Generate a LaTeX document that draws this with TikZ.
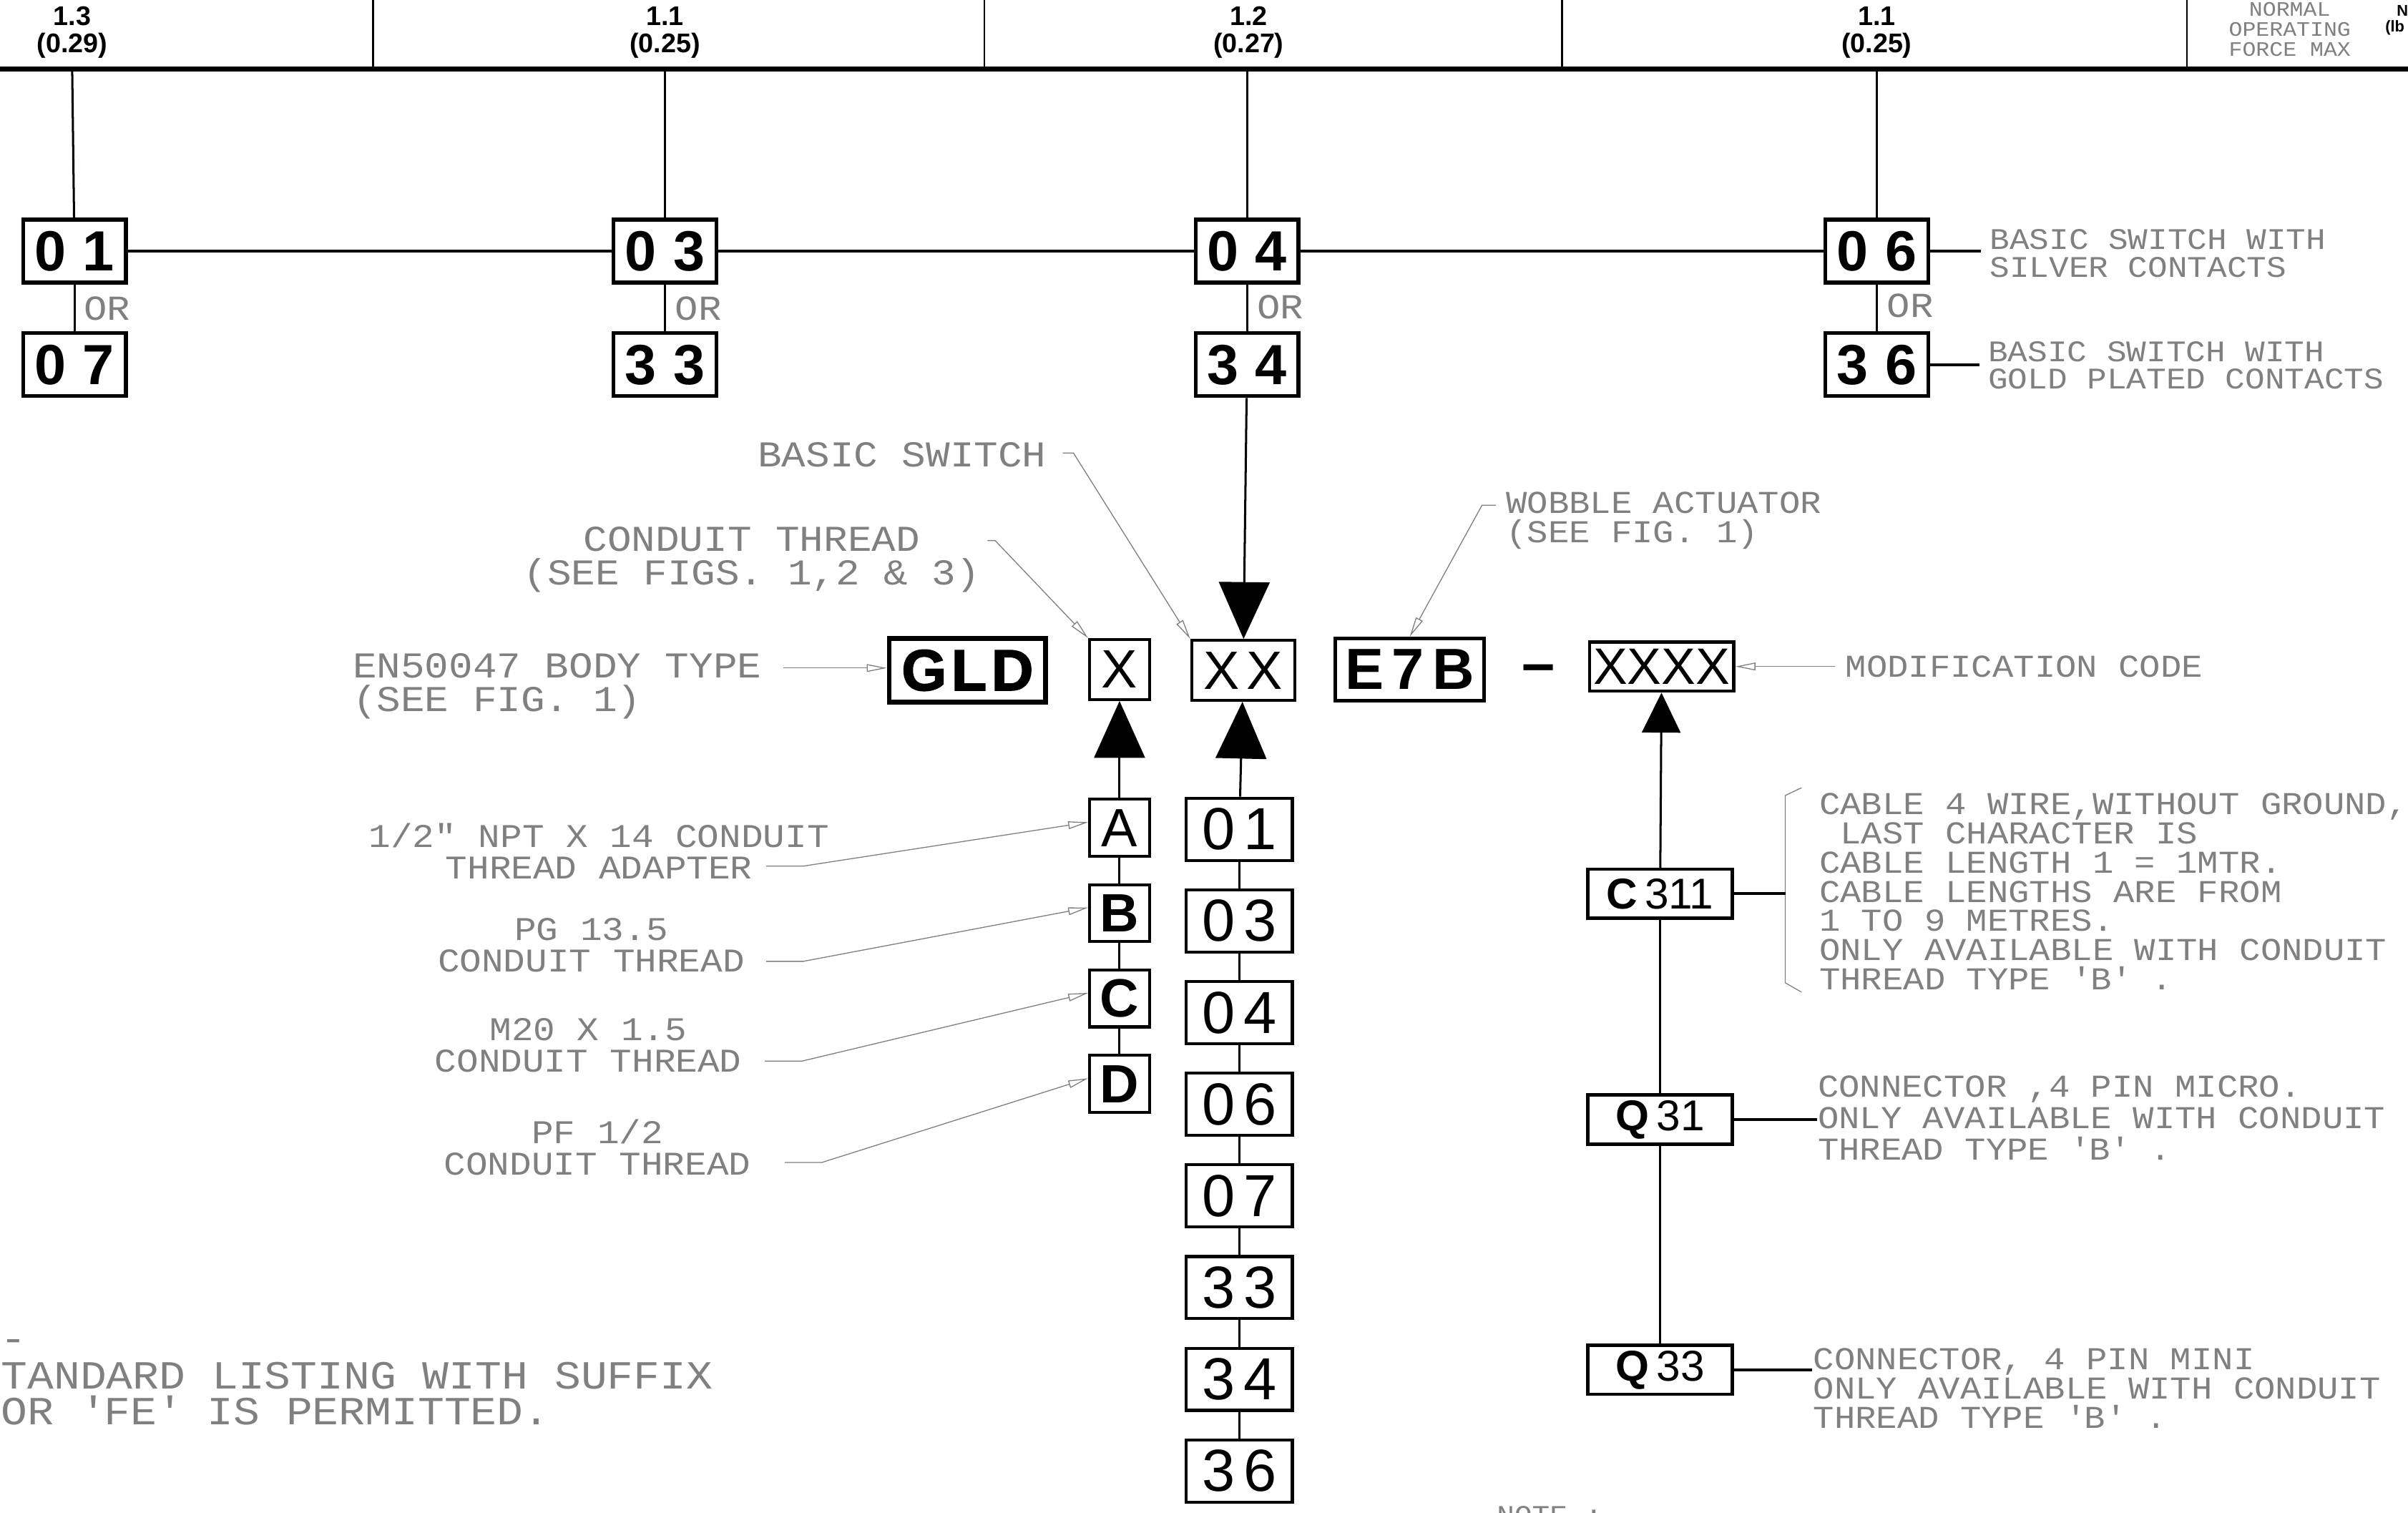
\documentclass[tikz,border=0pt]{standalone}
\usepackage{fontspec}
\setmainfont{Liberation Sans}
\newfontfamily\cadfont[FakeStretch=1.1]{Liberation Mono}
\newfontfamily\digitfont[LetterSpace=14]{Liberation Sans}
\newfontfamily\widefont[LetterSpace=30]{Liberation Sans}
\newfontfamily\heavyfont[FakeBold=2,LetterSpace=8]{Liberation Sans}
\usetikzlibrary{arrows.meta}

\definecolor{cadgray}{gray}{0.5}
\newcommand{\cad}[2]{\fontsize{#1}{#2}\cadfont}
\newcommand{\tick}{\textquotesingle}

\begin{document}
\begin{tikzpicture}[x=0.02cm,y=-0.02cm,line width=0.8pt,
                    >={Triangle[open,width=1mm,length=2.6mm]},node distance=1.48cm,
                    head/.style={font=\bfseries\fontsize{10}{10}\selectfont,align=center},
                    top box/.style={draw,line width=1.4pt,inner sep=0pt,minimum width=1.34cm,minimum height=0.82cm,
                                    font=\widefont\bfseries\fontsize{21}{21}\selectfont},
                    col box/.style={draw,line width=1.1pt,inner sep=0pt,minimum width=1.38cm,minimum height=0.81cm,
                                    font=\digitfont\fontsize{22}{22}\selectfont},
                    thr box/.style={draw,line width=1.1pt,inner sep=0pt,minimum width=0.78cm,minimum height=0.74cm,
                                    font=\fontsize{20}{20}\selectfont},
                    mod box/.style={draw,line width=1.2pt,inner sep=0pt,minimum width=1.88cm,minimum height=0.64cm,
                                    font=\fontsize{16}{16}\selectfont},
                    note/.style={text=cadgray,inner sep=0pt},
                    leader/.style={draw=cadgray,line width=0.35pt},
                    big arrow/.style={-{Triangle[width=6.6mm,length=7.4mm]}},
                    mod arrow/.style={-{Triangle[width=5mm,length=5.2mm]}}]

  \useasboundingbox (0,0) rectangle (1568,985);

  % table head
  \draw[line width=1.7pt] (0,45) -- (1568,45);
  \draw[line width=0.7pt] (243,0) -- (243,45) (641,0) -- (641,45)
                          (1017,0) -- (1017,45) (1424,0) -- (1424,45);
  \node[head] (f01) at (47,21) {1.3\\(0.29)};
  \node[head] (f03) at (433,21) {1.1\\(0.25)};
  \node[head] (f04) at (813,21) {1.2\\(0.27)};
  \node[head] (f06) at (1222,21) {1.1\\(0.25)};
  \node[note,font=\cad{7.6}{7.4},align=center] (force) at (1491,19) {NORMAL\\OPERATING\\FORCE MAX};
  \node[font=\bfseries\fontsize{5.8}{5.8}\selectfont,anchor=west,inner sep=0pt] (nn) at (1560,7) {N};
  \node[font=\bfseries\fontsize{5.8}{5.8}\selectfont,anchor=west,inner sep=0pt] (lb) at (1552.5,18) {(lb};
  \coordinate (h01) at (47,45);
  \coordinate (h03) at (433,45);
  \coordinate (h04) at (812,45);
  \coordinate (h06) at (1222,45);

  % basic switch choices
  \node[top box] (s01) at (48.5,163.5) {01};
  \node[top box] (s03) at (433,163.5) {03};
  \node[top box] (s04) at (812,163.5) {04};
  \node[top box] (s06) at (1222,163.5) {06};
  \node[top box] (s07) [below of=s01] {07};
  \node[top box] (s33) [below of=s03] {33};
  \node[top box] (s34) [below of=s04] {34};
  \node[top box] (s36) [below of=s06] {36};

  \node[note,font=\cad{13}{13},anchor=west] (or01) at (54,201) {OR};
  \node[note,font=\cad{13}{13},anchor=west] (or03) at (439,201) {OR};
  \node[note,font=\cad{13}{13},anchor=west] (or04) at (818,200) {OR};
  \node[note,font=\cad{13}{13},anchor=west] (or06) at (1228,199) {OR};

  \node[note,font=\cad{11.1}{10.2},align=left,anchor=west] (silver) at (1295,165)
       {BASIC SWITCH WITH\\SILVER CONTACTS};
  \node[note,font=\cad{11.1}{10.2},align=left,anchor=west] (gold) at (1294,238)
       {BASIC SWITCH WITH\\GOLD PLATED CONTACTS};

  \path (h01) edge (s01)
        (h03) edge (s03)
        (h04) edge (s04)
        (h06) edge (s06)
        (s01) edge (s07)
        (s03) edge (s33)
        (s04) edge (s34)
        (s06) edge (s36);
  \path[line width=1.1pt]
        (s01) edge (s03)
        (s03) edge (s04)
        (s04) edge (s06)
        (s06.east) edge [shorten >=1mm] (s06.east -| silver.west)
        (s36.east) edge [shorten >=1mm] (s36.east -| gold.west);

  % catalogue listing
  \node[draw,line width=1.8pt,inner sep=0pt,minimum width=2.04cm,minimum height=0.83cm,
        font=\heavyfont\bfseries\fontsize{21.5}{21.5}\selectfont] (gld) at (630,436.5) {GLD};
  \node[thr box,minimum height=0.78cm] (thr) at (729,436) {X};
  \node[draw,line width=1.1pt,inner sep=0pt,minimum width=1.34cm,minimum height=0.78cm,
        font=\digitfont\fontsize{20}{20}\selectfont] (xx) at (809.5,436.5) {XX};
  \node[draw,line width=1.4pt,inner sep=0pt,minimum width=1.94cm,minimum height=0.81cm,
        font=\digitfont\bfseries\fontsize{21.5}{21.5}\selectfont] (e7b) at (918,436) {E7B};
  \node[font=\bfseries\fontsize{22}{22}\selectfont] (dash) at (1002,439) {--};
  \node[mod box,font=\fontsize{19}{19}\selectfont] (xxxx) at (1082,434) {XXXX};

  \path (s34) edge [big arrow] (xx);

  % labels with leaders
  \node[note,font=\cad{13.5}{12.5},anchor=east] (lswitch) at (682,296) {BASIC SWITCH};
  \node[note,font=\cad{13.5}{12.5},align=center] (lthread) at (489.5,364.5)
       {CONDUIT THREAD\\(SEE FIGS. 1,2 \& 3)};
  \node[note,font=\cad{13.5}{12.5},align=left,anchor=west] (lbody) at (229,447)
       {EN50047 BODY TYPE\\(SEE FIG. 1)};
  \node[note,font=\cad{11.8}{11.1},align=left,anchor=west] (lwobble) at (980,339)
       {WOBBLE ACTUATOR\\(SEE FIG. 1)};
  \node[note,font=\cad{11.8}{11},anchor=west] (lmod) at (1201,434) {MODIFICATION CODE};
  \coordinate (sw0) at (692,295);
  \coordinate (ct0) at (643,352);
  \coordinate (en0) at (510,435);
  \coordinate (wa0) at (974,329);
  \coordinate (mc0) at (1195,434);

  \draw[leader,->] (sw0) -- ++(7,0) -- (xx.north west);
  \draw[leader,->] (ct0) -- ++(5,0) -- (thr.north west);
  \draw[leader,->] (en0) -- (en0 -| gld.west);
  \draw[leader,->] (wa0) -- ++(-9,0) -- (e7b.north);
  \draw[leader,->] (mc0) -- (xxxx.east);

  % conduit thread column
  \begin{scope}[node distance=1.112cm]
    \node[thr box] (ta) at (729,539) {A};
    \node[thr box,font=\bfseries\fontsize{20}{20}\selectfont] (tb) [below of=ta] {B};
    \node[thr box,font=\bfseries\fontsize{20}{20}\selectfont] (tc) [below of=tb] {C};
    \node[thr box,font=\bfseries\fontsize{20}{20}\selectfont] (td) [below of=tc] {D};
  \end{scope}

  \node[note,font=\cad{12.3}{11.7},align=center] (lta) at (390,554) {1/2" NPT X 14 CONDUIT\\THREAD ADAPTER};
  \node[note,font=\cad{12.3}{11.7},align=center] (ltb) at (385,615.5) {PG 13.5\\CONDUIT THREAD};
  \node[note,font=\cad{12.3}{11.7},align=center] (ltc) at (383,680.5) {M20 X 1.5\\CONDUIT THREAD};
  \node[note,font=\cad{12.3}{11.7},align=center] (ltd) at (389,747) {PF 1/2\\CONDUIT THREAD};
  \coordinate (ta0) at (499,564);
  \coordinate (tb0) at (499,626);
  \coordinate (tc0) at (498,691);
  \coordinate (td0) at (511,757);

  \draw[leader,->] (ta0) -- ++(24,0) -- (ta.170);
  \draw[leader,->] (tb0) -- ++(24,0) -- (tb.170);
  \draw[leader,->] (tc0) -- ++(24,0) -- (tc.170);
  \draw[leader,->] (td0) -- ++(24,0) -- (td.170);

  \path (ta) edge [big arrow] (thr)
        (ta) edge (tb)
        (tb) edge (tc)
        (tc) edge (td);

  % basic switch column
  \begin{scope}[node distance=1.194cm]
    \node[col box] (c01) at (807,540) {01};
    \node[col box] (c03) [below of=c01] {03};
    \node[col box] (c04) [below of=c03] {04};
    \node[col box] (c06) [below of=c04] {06};
    \node[col box] (c07) [below of=c06] {07};
    \node[col box] (c33) [below of=c07] {33};
    \node[col box] (c34) [below of=c33] {34};
    \node[col box] (c36) [below of=c34] {36};
  \end{scope}

  \path (c01) edge [big arrow] (xx)
        (c01) edge (c03)
        (c03) edge (c04)
        (c04) edge (c06)
        (c06) edge (c07)
        (c07) edge (c33)
        (c33) edge (c34)
        (c34) edge (c36);

  % modification column
  \node[mod box] (c311) at (1081,582) {\textbf{C}\,311};
  \node[mod box] (q31) at (1081,729) {\textbf{Q}\,31};
  \node[mod box] (q33) at (1081,892) {\textbf{Q}\,33};

  \node[note,font=\cad{11.8}{10.8},align=left,anchor=west] (lc311) at (1184,580.5)
       {CABLE 4 WIRE,WITHOUT GROUND,\\\ LAST CHARACTER IS\\CABLE LENGTH 1 = 1MTR.\\CABLE LENGTHS ARE FROM\\1 TO 9 METRES.\\ONLY AVAILABLE WITH CONDUIT\\THREAD TYPE \tick B\tick\ .};
  \node[note,font=\cad{11.8}{11.7},align=left,anchor=west] (lq31) at (1183,728)
       {CONNECTOR ,4 PIN MICRO.\\ONLY AVAILABLE WITH CONDUIT\\THREAD TYPE \tick B\tick\ .};
  \node[note,font=\cad{11.8}{10.8},align=left,anchor=west] (lq33) at (1180,904)
       {CONNECTOR, 4 PIN MINI\\ONLY AVAILABLE WITH CONDUIT\\THREAD TYPE \tick B\tick\ .};
  \coordinate (br) at (1162.5,582);
  \draw[leader] (1173,513) -- (1162.5,518) -- (1162.5,640) -- (1173,646);

  \path (c311) edge [mod arrow] (xxxx)
        (c311) edge (q31)
        (q31) edge (q33);
  \path[line width=1.1pt]
        (c311.east) edge (br)
        (q31.east) edge (q31.east -| lq31.west)
        (q33.east) edge (q33.east -| lq33.west);

  % remarks
  \node[note,font=\cad{14.8}{13.1}] (ldash) at (9,876) {-};
  \node[note,font=\cad{14.8}{13.1},align=left,anchor=west] (lstd) at (0,907.5)
       {TANDARD LISTING WITH SUFFIX\\OR \tick FE\tick\ IS PERMITTED.};
  \node[note,font=\cad{9.9}{9.9},anchor=north west] (lnote) at (974,980) {NOTE :};
\end{tikzpicture}
\end{document}
